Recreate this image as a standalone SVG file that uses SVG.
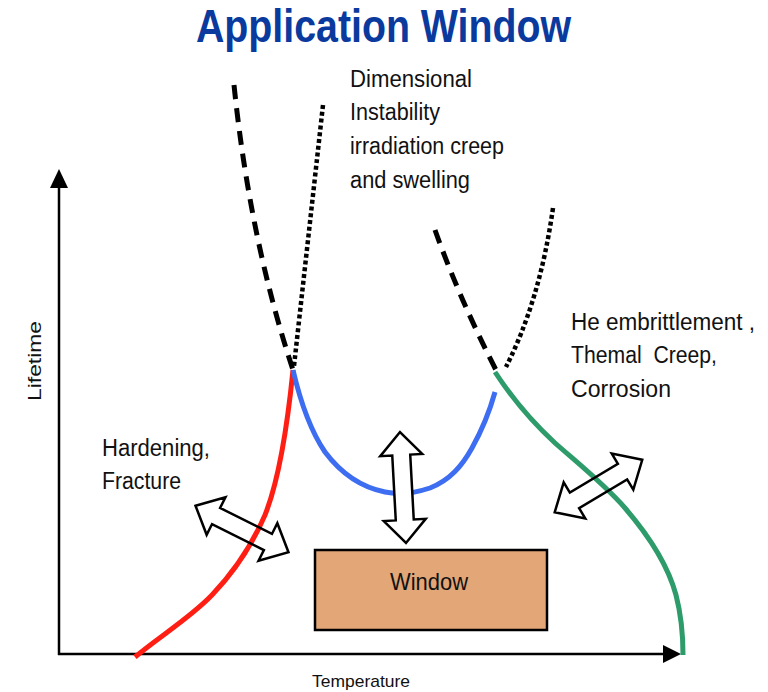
<svg xmlns="http://www.w3.org/2000/svg" width="768" height="692" viewBox="0 0 768 692">
  <style>
    .lbl { font-family: "Liberation Sans", Arial, sans-serif; font-size: 23px; fill: #111; }
    .title { font-family: "Liberation Sans", Arial, sans-serif; font-size: 46px; font-weight: bold; fill: #0a3a9e; }
    .axis { stroke: #000; stroke-width: 2.5; fill: none; }
    .curve { fill: none; stroke-width: 5; stroke-linecap: butt; stroke-linejoin: round; }
    .dash { fill: none; stroke: #000; stroke-width: 5; stroke-dasharray: 14 9; }
    .dot { fill: none; stroke: #000; stroke-width: 4.5; stroke-dasharray: 4 2.8; }
    .barrow { stroke: #000; stroke-width: 2.5; stroke-linejoin: miter; }
  </style>
  <rect width="768" height="692" fill="#fff"/>

  <text class="title" x="196" y="42" textLength="375" lengthAdjust="spacingAndGlyphs">Application Window</text>

  <!-- axes -->
  <g id="axes">
    <line class="axis" x1="59" y1="655" x2="59" y2="186"/>
    <polygon points="59,169 50,188 68,188" fill="#000"/>
    <line class="axis" x1="58" y1="654" x2="664" y2="654"/>
    <polygon points="681,654 663,645 663,663" fill="#000"/>
    <text class="lbl" style="font-size:18px" transform="translate(41,361) rotate(-90)" text-anchor="middle" textLength="80" lengthAdjust="spacingAndGlyphs">Lifetime</text>
    <text class="lbl" style="font-size:17px" x="312" y="687" textLength="98" lengthAdjust="spacingAndGlyphs">Temperature</text>
  </g>

  <!-- limit curves -->
  <g id="connectors">
    <path class="dash" d="M234,85 Q250,240 293,370"/>
    <path class="dot" d="M323,105 Q308,240 294,366"/>
    <path class="dash" d="M435,230 Q460,300 497,372"/>
    <path class="dot" d="M553,208 Q540,300 506,367"/>
    <path class="curve" stroke="#ff1e14" d="M135,657 C160,636 190,618 212,595 C235,571 252,545 265,515 C277,485 287,430 293,370"/>
    <path class="curve" stroke="#3d6df0" d="M293,370 C300,400 310,430 325,452 C340,472 360,487 385,492 C400,495 415,493 430,488 C450,480 462,466 472,448 C482,430 490,410 495,392"/>
    <path class="curve" stroke="#2e9b6b" d="M495,372 C510,395 530,420 555,443 C580,465 605,485 625,508 C650,537 668,565 676,595 C682,618 683,640 683,655"/>
  </g>

  <!-- double block arrows -->
  <g id="arrow-fracture">
    <path class="barrow" fill="none" transform="translate(242,529) rotate(26.6)" d="M-52,0 L-29,-21 L-29,-9 L29,-9 L29,-21 L52,0 L29,21 L29,9 L-29,9 L-29,21 Z"/>
  </g>
  <g id="arrow-window">
    <path class="barrow" fill="#fff" transform="translate(403,487.5) rotate(86.9)" d="M-55.5,0 L-32.5,-21 L-32.5,-9 L32.5,-9 L32.5,-21 L55.5,0 L32.5,21 L32.5,9 L-32.5,9 L-32.5,21 Z"/>
  </g>
  <g id="arrow-creep">
    <path class="barrow" fill="none" transform="translate(598.5,486) rotate(-30.9)" d="M-51,0 L-28,-21 L-28,-9 L28,-9 L28,-21 L51,0 L28,21 L28,9 L-28,9 L-28,21 Z"/>
  </g>

  <!-- window box -->
  <g id="window">
    <rect x="315" y="550" width="232" height="80" fill="#e2a677" stroke="#000" stroke-width="2.5"/>
    <text class="lbl" style="font-size:24px" x="390" y="590" textLength="78" lengthAdjust="spacingAndGlyphs">Window</text>
  </g>

  <!-- region labels -->
  <g id="label-instability">
    <text class="lbl" x="350" y="87" textLength="122" lengthAdjust="spacingAndGlyphs">Dimensional</text>
    <text class="lbl" x="350" y="120" textLength="90" lengthAdjust="spacingAndGlyphs">Instability</text>
    <text class="lbl" x="350" y="154" textLength="154" lengthAdjust="spacingAndGlyphs">irradiation creep</text>
    <text class="lbl" x="350" y="188" textLength="120" lengthAdjust="spacingAndGlyphs">and swelling</text>
  </g>
  <g id="label-embrittlement">
    <text class="lbl" x="571" y="330" textLength="184" lengthAdjust="spacingAndGlyphs" xml:space="preserve">He embrittlement ,</text>
    <text class="lbl" x="571" y="363" textLength="146" lengthAdjust="spacingAndGlyphs" xml:space="preserve">Themal  Creep,</text>
    <text class="lbl" x="571" y="397" textLength="100" lengthAdjust="spacingAndGlyphs">Corrosion</text>
  </g>
  <g id="label-hardening">
    <text class="lbl" x="102" y="456" textLength="108" lengthAdjust="spacingAndGlyphs">Hardening,</text>
    <text class="lbl" x="102" y="489" textLength="79" lengthAdjust="spacingAndGlyphs">Fracture</text>
  </g>
</svg>
